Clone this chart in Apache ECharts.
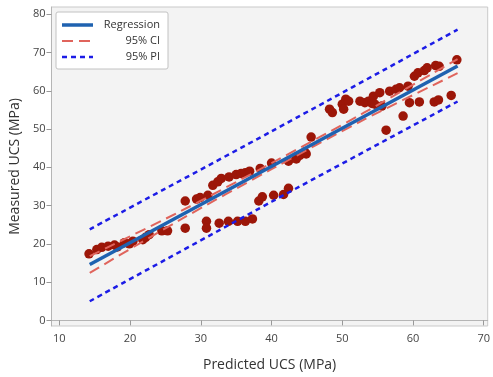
<!DOCTYPE html>
<html>
<head>
<meta charset="utf-8">
<script src="https://cdn.jsdelivr.net/npm/echarts@6/dist/echarts.min.js"></script>
<style>
  html, body { margin: 0; padding: 0; background: #fff; }
  #chart { width: 493px; height: 377px; }
</style>
</head>
<body>
<div id="chart"></div>
<script>
// scatter: predicted vs measured UCS (MPa)
const predicted = [
  14.2, 15.3, 16.0, 16.9, 17.8, 18.2, 19.2, 19.9, 20.4, 21.8, 22.2, 22.7, 24.5, 25.3,
  27.8, 27.8, 29.4, 29.9, 31.0, 31.7, 32.4, 32.9, 34.0, 35.0, 35.7, 36.3, 36.9, 38.4,
  40.0, 42.4, 43.5, 44.0, 44.9, 45.6, 30.8, 30.8, 32.6, 33.9, 35.2, 36.3, 37.3, 38.2,
  38.7, 40.3, 41.7, 42.4, 44.7, 48.2, 48.6, 50.0, 50.2, 50.5, 50.9, 52.5, 53.2, 53.7,
  54.2, 54.4, 54.6, 55.3, 55.6, 56.7, 57.6, 58.1, 59.3, 60.2, 60.7, 61.6, 62.0, 63.2,
  63.7, 66.2, 59.5, 60.9, 63.0, 63.6, 65.4, 58.6, 56.2
];
const measured = [
  17.4, 18.5, 19.1, 19.4, 19.7, 19.2, 20.3, 20.0, 20.7, 21.1, 21.7, 22.4, 23.4, 23.4,
  24.1, 31.2, 31.7, 32.1, 32.7, 35.3, 36.2, 37.1, 37.5, 38.1, 38.4, 38.6, 39.0, 39.7,
  41.1, 41.6, 42.2, 43.1, 43.5, 47.9, 25.9, 24.1, 25.4, 25.9, 25.9, 25.9, 26.5, 31.2,
  32.3, 32.7, 32.9, 34.5, 44.0, 55.2, 54.3, 56.5, 55.2, 57.8, 57.3, 57.3, 56.9, 57.3,
  56.7, 58.6, 56.5, 59.5, 56.0, 59.9, 60.4, 60.8, 61.2, 63.8, 64.7, 65.3, 66.0, 66.6,
  66.4, 68.1, 56.9, 57.1, 57.1, 57.6, 58.8, 53.4, 49.7
];

// fitted line and bands
const fitX = [14.3, 66.3];
const fitY = [14.6, 66.5];
const ciX = [14.3, 27, 40, 53, 66.3];
const ciUpper = [16.8, 28.4, 41.1, 54.2, 68.3];
const ciLower = [12.4, 26.2, 39.5, 52.4, 64.6];
const piX = [14.3, 40, 66.3];
const piUpper = [23.8, 49.4, 76.0];
const piLower = [5.0, 31.0, 57.2];

const xTicks = [10, 20, 30, 40, 50, 60, 70];
const yTicks = [0, 10, 20, 30, 40, 50, 60, 70, 80];

const zip = (a, b) => a.map((v, i) => [v, b[i]]);
const font = '"Open Sans", "Noto Sans", sans-serif';

const chart = echarts.init(document.getElementById('chart'));

chart.setOption({
  animation: false,
  grid: {
    left: 49, top: 7, right: 0, bottom: 48,
    show: true,
    backgroundColor: '#f3f3f3',
    borderColor: '#c9c9c9',
    borderWidth: 1
  },
  xAxis: {
    type: 'value',
    min: 8.89, max: 70.56,
    name: 'Predicted UCS (MPa)',
    nameLocation: 'middle',
    nameGap: 32,
    nameTextStyle: { fontFamily: font, fontSize: 14, color: '#333' },
    axisLine: { show: true, lineStyle: { color: '#b5b5b5' } },
    axisTick: { show: true, length: 5, customValues: xTicks, lineStyle: { color: '#999' } },
    axisLabel: { customValues: xTicks, margin: 7, fontFamily: font, fontSize: 11, color: '#444' },
    splitLine: { show: false }
  },
  yAxis: {
    type: 'value',
    min: -1.47, max: 81.9,
    name: 'Measured UCS (MPa)',
    nameLocation: 'middle',
    nameGap: 26,
    nameTextStyle: { fontFamily: font, fontSize: 14, color: '#333' },
    axisLine: { show: true, lineStyle: { color: '#b5b5b5' } },
    axisTick: { show: true, length: 5, customValues: yTicks, lineStyle: { color: '#999' } },
    axisLabel: { customValues: yTicks, margin: 6, fontFamily: font, fontSize: 11, color: '#444' },
    splitLine: { show: false }
  },
  series: [
    {
      type: 'scatter',
      data: zip(predicted, measured),
      symbolSize: 9.5,
      itemStyle: { color: '#9c1608', opacity: 1 },
      z: 2
    },
    {
      type: 'line', data: zip(fitX, fitY), symbol: 'none', z: 4,
      lineStyle: { color: '#1f62b0', width: 3.5 }
    },
    {
      type: 'line', data: zip(ciX, ciUpper), symbol: 'none', smooth: 0.3, z: 3,
      lineStyle: { color: '#e0645c', width: 2, type: [11, 6] }
    },
    {
      type: 'line', data: zip(ciX, ciLower), symbol: 'none', smooth: 0.3, z: 3,
      lineStyle: { color: '#e0645c', width: 2, type: [11, 6] }
    },
    {
      type: 'line', data: zip(piX, piUpper), symbol: 'none', smooth: 0.3, z: 3,
      lineStyle: { color: '#1c1ce6', width: 2.5, type: [5, 4] }
    },
    {
      type: 'line', data: zip(piX, piLower), symbol: 'none', smooth: 0.3, z: 3,
      lineStyle: { color: '#1c1ce6', width: 2.5, type: [5, 4] }
    }
  ],
  graphic: [
    {
      type: 'group', x: 56, y: 12, z: 10,
      children: [
        { type: 'rect', shape: { x: 0, y: 0, width: 112, height: 57, r: 2 },
          style: { fill: '#fff', stroke: '#c2c2c2', lineWidth: 1 } },
        { type: 'line', shape: { x1: 6, y1: 13, x2: 37, y2: 13 },
          style: { stroke: '#1f62b0', lineWidth: 3.5 } },
        { type: 'line', shape: { x1: 6, y1: 29, x2: 37, y2: 29 },
          style: { stroke: '#e0645c', lineWidth: 2, lineDash: [11, 6] } },
        { type: 'line', shape: { x1: 6, y1: 45, x2: 37, y2: 45 },
          style: { stroke: '#1c1ce6', lineWidth: 2.5, lineDash: [5, 4] } },
        { type: 'text', x: 104, y: 13,
          style: { text: 'Regression', align: 'right', verticalAlign: 'middle', font: '11px ' + font, fill: '#333' } },
        { type: 'text', x: 104, y: 29,
          style: { text: '95% CI', align: 'right', verticalAlign: 'middle', font: '11px ' + font, fill: '#333' } },
        { type: 'text', x: 104, y: 45,
          style: { text: '95% PI', align: 'right', verticalAlign: 'middle', font: '11px ' + font, fill: '#333' } }
      ]
    }
  ]
});
</script>
</body>
</html>
